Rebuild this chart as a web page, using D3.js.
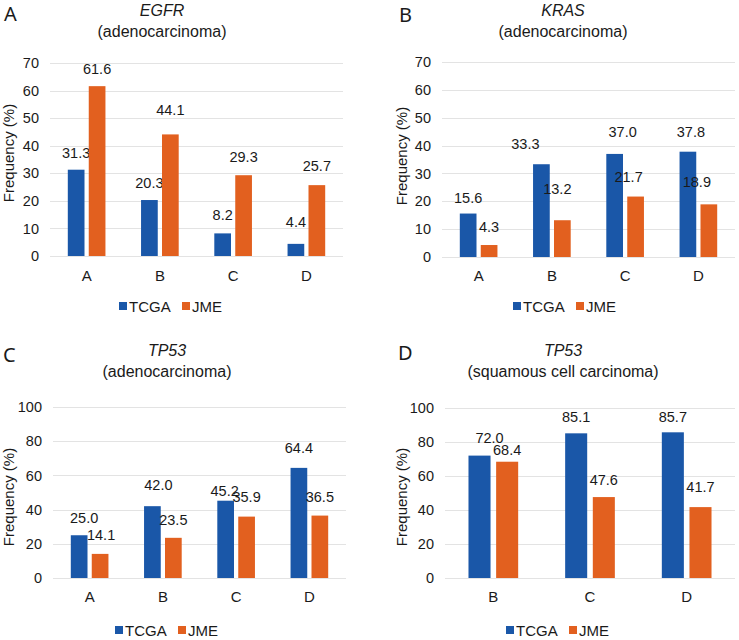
<!DOCTYPE html>
<html><head><meta charset="utf-8">
<script src="https://cdn.jsdelivr.net/npm/d3@7/dist/d3.min.js"></script>
<style>
body{margin:0;background:#fff;}
text{font-family:"Liberation Sans",Arial,sans-serif;fill:#1a1a1a;}
</style></head><body>
<svg id="c" width="739" height="640"></svg>
<script>
// ---- data ----
const seriesNames = ["TCGA", "JME"];
const catsA = ["A", "B", "C", "D"];
const egfrTCGA = [31.3, 20.3, 8.2, 4.4];
const egfrJME = [61.6, 44.1, 29.3, 25.7];
const catsB = ["A", "B", "C", "D"];
const krasTCGA = [15.6, 33.3, 37.0, 37.8];
const krasJME = [4.3, 13.2, 21.7, 18.9];
const catsC = ["A", "B", "C", "D"];
const tp53AdTCGA = [25.0, 42.0, 45.2, 64.4];
const tp53AdJME = [14.1, 23.5, 35.9, 36.5];
const catsD = ["B", "C", "D"];
const tp53SqTCGA = [72.0, 85.1, 85.7];
const tp53SqJME = [68.4, 47.6, 41.7];
const ticksAB = [0, 10, 20, 30, 40, 50, 60, 70];
const ticksCD = [0, 20, 40, 60, 80, 100];

// ---- layout / style ----
const colors = ["#1a57a8", "#e2601f"];
const panels = [
  {letter:"A", gene:"EGFR", sub:"(adenocarcinoma)", cats:catsA, s:[egfrTCGA, egfrJME], ticks:ticksAB, max:70,
   x0:50, x1:343, y0:256, y1:63, letterX:4, letterY:21, titleX:162, titleY:16, ylabX:14, ylabY:153, catY:281, legY:306, legX:119,
   nudge:[[[0,0],[0,0],[0,-1],[0,-5]],[[0,0],[0,-7],[0,-1],[0,-2]]]},
  {letter:"B", gene:"KRAS", sub:"(adenocarcinoma)", cats:catsB, s:[krasTCGA, krasJME], ticks:ticksAB, max:70,
   x0:442, x1:735, y0:257, y1:62, letterX:399, letterY:22, titleX:563, titleY:16, ylabX:407, ylabY:156, catY:281, legY:306, legX:513,
   nudge:[[[0,1],[-16,-3],[8,-5],[3,-3]],[[0,-1],[-5,-14],[-7,-3],[-12,-5]]]},
  {letter:"C", gene:"TP53", sub:"(adenocarcinoma)", cats:catsC, s:[tp53AdTCGA, tp53AdJME], ticks:ticksCD, max:100,
   x0:53, x1:346, y0:578, y1:407, letterX:3, letterY:362, titleX:167, titleY:356, ylabX:14, ylabY:497, catY:602, legY:630, legX:115,
   nudge:[[[5,0],[6,-4],[-1,7],[0,-3]],[[1,-2],[0,-1],[0,-3],[0,-2]]]},
  {letter:"D", gene:"TP53", sub:"(squamous cell carcinoma)", cats:catsD, s:[tp53SqTCGA, tp53SqJME], ticks:ticksCD, max:100,
   x0:445, x1:735, y0:578, y1:408, letterX:398, letterY:360, titleX:563, titleY:356, ylabX:407, ylabY:497, catY:602, legY:630, legX:506,
   nudge:[[[10,-1],[0,1],[0,2]],[[0,5],[0,0],[0,-3]]]}
];

const svg = d3.select("#c");
const fmt = d3.format(".1f");

panels.forEach(p => {
  const g = svg.append("g");
  const x = d3.scaleBand().domain(p.cats).range([p.x0, p.x1]).padding(0);
  const y = d3.scaleLinear().domain([0, p.max]).range([p.y0, p.y1]);
  const band = x.bandwidth();
  const bw = band * 0.228, gap = band * 0.058;

  // gridlines
  g.selectAll(".grid").data(p.ticks).join("line")
    .attr("x1", p.x0).attr("x2", p.x1)
    .attr("y1", d => Math.round(y(d)) + 0.5).attr("y2", d => Math.round(y(d)) + 0.5)
    .attr("stroke", "#e3e3e3").attr("stroke-width", 1);

  // y axis tick labels
  const ya = d3.axisLeft(y).tickValues(p.ticks).tickSize(0).tickPadding(11);
  const yg = g.append("g").attr("transform", `translate(${p.x0},0)`).call(ya);
  yg.select(".domain").remove();
  yg.selectAll("text").style("font-size", "14.5px").attr("fill", "#1a1a1a").style("font-family", '"Liberation Sans",Arial,sans-serif');

  // x axis labels
  const xa = d3.axisBottom(x).tickSize(0).tickPadding(0);
  const xg = g.append("g").attr("transform", `translate(0,${p.catY})`).call(xa);
  xg.select(".domain").remove();
  xg.selectAll("text").attr("dy", 0).attr("y", 0).style("font-size", "15px").attr("fill", "#1a1a1a").style("font-family", '"Liberation Sans",Arial,sans-serif');

  // bars
  p.s.forEach((vals, si) => {
    const off = si === 0 ? -gap/2 - bw : gap/2;
    const cx = (c) => x(c) + band/2 + off;
    g.selectAll(".bar" + si).data(vals).join("rect")
      .attr("x", (d, i) => cx(p.cats[i]))
      .attr("y", d => y(d))
      .attr("width", bw)
      .attr("height", d => y(0) - y(d))
      .attr("fill", colors[si]);
    g.selectAll(".lab" + si).data(vals).join("text")
      .attr("x", (d, i) => cx(p.cats[i]) + bw/2 + p.nudge[si][i][0])
      .attr("y", (d, i) => y(d) - 12 + p.nudge[si][i][1])
      .attr("text-anchor", "middle")
      .style("font-size", "14.5px")
      .text(d => fmt(d));
  });

  // titles
  g.append("text").attr("x", p.letterX).attr("y", p.letterY)
    .style("font-family", '"Noto Sans","Open Sans",sans-serif').style("font-size", "20px").text(p.letter);
  g.append("text").attr("x", p.titleX).attr("y", p.titleY).attr("text-anchor", "middle")
    .style("font-size", "16px").style("font-style", "italic").text(p.gene);
  g.append("text").attr("x", p.titleX).attr("y", p.titleY + 21).attr("text-anchor", "middle")
    .style("font-size", "16px").text(p.sub);

  // y label
  g.append("text").attr("transform", `translate(${p.ylabX},${p.ylabY}) rotate(-90)`)
    .attr("text-anchor", "middle").style("font-size", "15px").text("Frequency (%)");

  // legend
  const lg = g.append("g").attr("transform", `translate(${p.legX},${p.legY})`);
  const items = lg.selectAll("g").data(seriesNames).join("g")
    .attr("transform", (d, i) => `translate(${i * 63},0)`);
  items.append("rect").attr("x", 0).attr("y", -4).attr("width", 8).attr("height", 8).attr("fill", (d, i) => colors[i]);
  items.append("text").attr("x", 10).attr("y", 5.5).style("font-size", "15px").text(d => d);
});
</script>
</body></html>
